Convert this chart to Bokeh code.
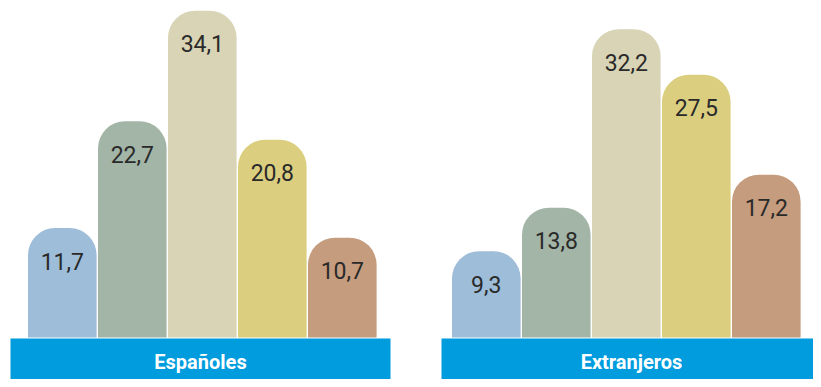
from bokeh.plotting import figure
from bokeh.models import ColumnDataSource
from bokeh.embed import file_html
from bokeh.resources import INLINE
from bokeh.core.properties import value

groups = ["Españoles", "Extranjeros"]
espanoles = [11.7, 22.7, 34.1, 20.8, 10.7]
extranjeros = [9.3, 13.8, 32.2, 27.5, 17.2]
colors = ["#9dbdd9", "#a3b5a6", "#d8d4b5", "#dbcf7f", "#c59c7d"]

series = [espanoles, extranjeros]

p = figure(width=813, height=379, x_range=(0, 813), y_range=(-3.918, 35.155),
           output_backend="svg", toolbar_location=None, min_border=0)
p.axis.visible = False
p.grid.visible = False
p.outline_line_color = None
p.background_fill_color = "white"

group_start = [27.5, 451.5]
bar_step = 70
bar_w = 68.6
banner = [(10, 390), (441, 830)]

for g, vals in enumerate(series):
    xs = [group_start[g] + i * bar_step + bar_w / 2 for i in range(len(vals))]
    src = ColumnDataSource(dict(x=xs, top=vals, color=colors,
                                label=[f"{v:.1f}".replace(".", ",") for v in vals]))
    p.vbar(x="x", top="top", bottom=0, width=bar_w, fill_color="color",
           line_color=None, border_radius=(27, 27, 0, 0), source=src)
    p.text(x="x", y="top", text="label", source=src, y_offset=33,
           text_align="center", text_baseline="middle",
           text_font=value("Roboto"), text_font_size="23px",
           text_color="#2a2a2a")

# white gap above banners, then banners
p.quad(left=[0], right=[813], bottom=[-0.2], top=[0.412], fill_color="white",
       line_color=None)
for g in range(len(groups)):
    l, r = banner[g]
    p.quad(left=[l], right=[r], bottom=[-5], top=[0.309], fill_color="#009cde",
           line_color=None)
    cx = (l + min(r, 821)) / 2
    p.text(x=[cx], y=[-2.1], text=[groups[g]], text_align="center",
           text_baseline="middle", text_font=value("Roboto"),
           text_font_style="bold", text_font_size="20px", text_color="white")

open("out.html", "w").write(file_html(p, INLINE))
